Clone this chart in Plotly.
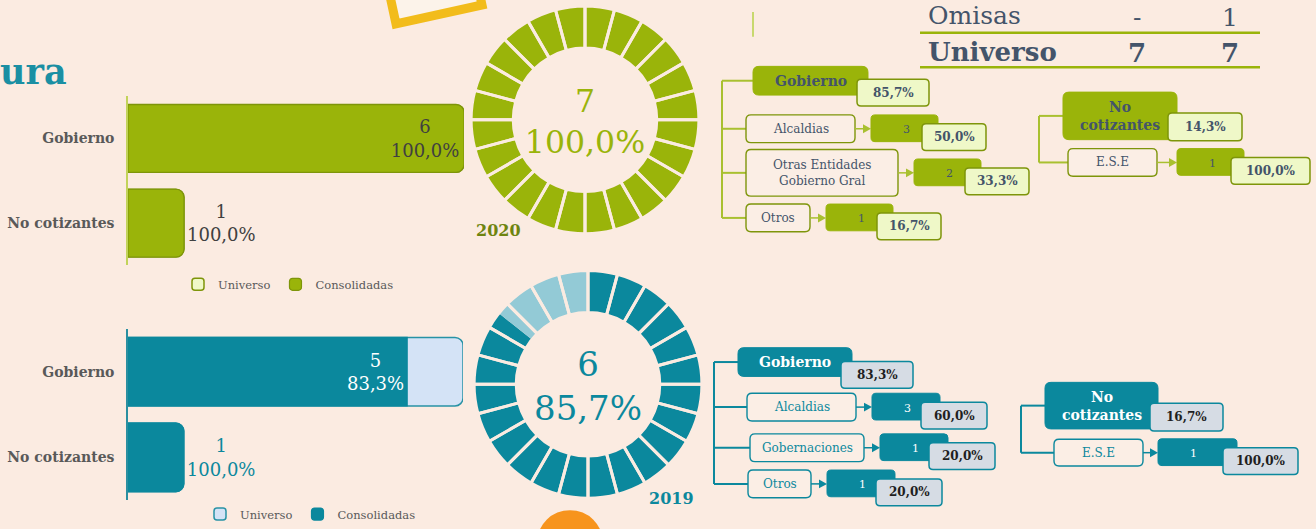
import plotly.graph_objects as go

W, H = 1316, 529
BG = "#FBEBE1"
SERIF = "Georgia, 'DejaVu Serif', serif"

GREEN = "#9AB40A"
GREEN_DARK = "#7E950A"
GREEN_LIGHT = "#EFF8C8"
GREEN_LINE = "#A9C030"
TEAL = "#0B889D"
TEAL_LIGHT = "#93CAD6"
BLUE_LIGHT = "#D4E3F6"
BADGE_GRAY = "#D6DCE4"
SLATE = "#44546A"
GRAY_TEXT = "#595959"

# ---- data ----
years = ["2020", "2019"]
categories = ["Gobierno", "No cotizantes"]
universo_2020 = [6, 1]
consolidadas_2020 = [6, 1]
universo_2019 = [6, 1]
consolidadas_2019 = [5, 1]

gob_items_2020 = ["Alcaldias", "Otras Entidades<br>Gobierno Gral", "Otros"]
gob_counts_2020 = [3, 2, 1]
nocot_items_2020 = ["E.S.E"]
nocot_counts_2020 = [1]

gob_items_2019 = ["Alcaldias", "Gobernaciones", "Otros"]
gob_counts_2019 = [3, 1, 1]
nocot_items_2019 = ["E.S.E"]
nocot_counts_2019 = [1]

table_rows = ["Omisas", "Universo"]
table_col1 = ["-", "7"]
table_col2 = ["1", "7"]


def pct(a, b):
    return f"{100 * a / b:.1f}".replace(".", ",") + "%"


def X(px):
    return px / W


def Y(py):
    return 1 - py / H


def rrect(x0, y0, x1, y1, r, fill, line, lw=1.2):
    pts = [
        f"M{X(x0 + r):.5f},{Y(y0):.5f}",
        f"L{X(x1 - r):.5f},{Y(y0):.5f}",
        f"Q{X(x1):.5f},{Y(y0):.5f} {X(x1):.5f},{Y(y0 + r):.5f}",
        f"L{X(x1):.5f},{Y(y1 - r):.5f}",
        f"Q{X(x1):.5f},{Y(y1):.5f} {X(x1 - r):.5f},{Y(y1):.5f}",
        f"L{X(x0 + r):.5f},{Y(y1):.5f}",
        f"Q{X(x0):.5f},{Y(y1):.5f} {X(x0):.5f},{Y(y1 - r):.5f}",
        f"L{X(x0):.5f},{Y(y0 + r):.5f}",
        f"Q{X(x0):.5f},{Y(y0):.5f} {X(x0 + r):.5f},{Y(y0):.5f} Z",
    ]
    return dict(type="path", xref="paper", yref="paper", path=" ".join(pts),
                fillcolor=fill, line=dict(color=line, width=lw), layer="above")


def seg(x0, y0, x1, y1, color, width=2):
    return dict(type="line", xref="paper", yref="paper", x0=X(x0), y0=Y(y0),
                x1=X(x1), y1=Y(y1), line=dict(color=color, width=width), layer="above")


def txt(x, y, s, size, color, bold=False, anchor="center"):
    return dict(x=X(x), y=Y(y), xref="paper", yref="paper", text=s, showarrow=False,
                xanchor=anchor, yanchor="middle",
                font=dict(family=SERIF, size=size, color=color,
                          weight="bold" if bold else "normal"))


shapes = []
notes = []


def draw_tree(g, head_label, head_pct, items, counts, p):
    total = sum(counts)
    hx0, hy0, hx1, hy1 = g["head"]
    hyc = (hy0 + hy1) / 2
    cx = g["conn"]
    shapes.append(seg(cx, hyc, cx, g["rows"][-1][0], p["line"]))
    shapes.append(seg(cx, hyc, hx0, hyc, p["line"]))
    for yc, x0, x1, h in g["rows"]:
        shapes.append(seg(cx, yc, x0, yc, p["line"]))
    shapes.append(rrect(hx0, hy0, hx1, hy1, 6, p["fill"], p["fill"], 1))
    bx0, by0, bx1, by1 = g["hbadge"]
    shapes.append(rrect(bx0, by0, bx1, by1, 4, p["badge_fill"], p["badge_line"], 1.5))
    notes.append(txt((hx0 + hx1) / 2, hyc, head_label, 14, p["head_text"], True))
    notes.append(txt((bx0 + bx1) / 2, (by0 + by1) / 2, head_pct, 12, p["badge_text"], True))
    for (yc, x0, x1, h), item, c in zip(g["rows"], items, counts):
        shapes.append(rrect(x0, yc - h / 2, x1, yc + h / 2, 5,
                            "rgba(255,255,255,0.15)", p["item_line"], 1.4))
        notes.append(txt((x0 + x1) / 2, yc, item, 12, p["item_text"]))
        c0 = x1 + g["arrow"]
        shapes.append(seg(x1, yc, c0 - 6, yc, p["line"], 1.5))
        shapes.append(dict(type="path", xref="paper", yref="paper", layer="above",
                           path=f"M{X(c0 - 8):.5f},{Y(yc - 4.5):.5f} L{X(c0 - 8):.5f},{Y(yc + 4.5):.5f} "
                                f"L{X(c0):.5f},{Y(yc):.5f} Z",
                           fillcolor=p["line"], line=dict(width=0)))
        shapes.append(rrect(c0, yc - 14, c0 + g["count_w"], yc + 13, 4, p["fill"], p["fill"], 1))
        notes.append(txt(c0 + 35, yc + 1, str(c), 11, p["count_text"]))
        b0 = c0 + g["badge_off"]
        shapes.append(rrect(b0, yc - 5, b0 + g["badge_w"], yc + 22, 4,
                            p["badge_fill"], p["badge_line"], 1.5))
        notes.append(txt(b0 + g["badge_w"] / 2, yc + 8.5, pct(c, total), 12, p["badge_text"], True))


pal_2020 = dict(fill=GREEN, head_text=SLATE, badge_fill=GREEN_LIGHT, badge_line=GREEN_DARK,
                badge_text=SLATE, item_line=GREEN_DARK, item_text=SLATE, line=GREEN_LINE,
                count_text=SLATE)
pal_2019 = dict(fill=TEAL, head_text="white", badge_fill=BADGE_GRAY, badge_line=TEAL,
                badge_text="#1F1F1F", item_line=TEAL, item_text=TEAL, line=TEAL,
                count_text="white")

tot_2020 = sum(consolidadas_2020)
tot_2019 = sum(consolidadas_2019)

draw_tree(dict(conn=722, head=(753, 67, 868, 96), hbadge=(857, 80, 929, 107),
               rows=[(130, 746, 855, 28), (174.5, 746, 898, 47), (220, 746, 810, 28)],
               arrow=16, count_w=67, badge_off=51, badge_w=64),
          categories[0], pct(sum(gob_counts_2020), tot_2020),
          gob_items_2020, gob_counts_2020, pal_2020)
draw_tree(dict(conn=1039, head=(1063, 93, 1177, 141), hbadge=(1168, 114, 1242, 142),
               rows=[(164, 1068, 1157, 28)],
               arrow=20, count_w=67, badge_off=54, badge_w=79),
          categories[1].replace(" ", "<br>"), pct(sum(nocot_counts_2020), tot_2020),
          nocot_items_2020, nocot_counts_2020, pal_2020)
draw_tree(dict(conn=714, head=(738, 351, 852, 380), hbadge=(841, 365, 913, 392),
               rows=[(411, 747, 856, 28), (452, 750, 864, 28), (488.5, 748, 811, 28)],
               arrow=16, count_w=68, badge_off=49, badge_w=66),
          categories[0], pct(sum(gob_counts_2019), tot_2019),
          gob_items_2019, gob_counts_2019, pal_2019)
draw_tree(dict(conn=1021, head=(1045, 386, 1158, 433), hbadge=(1150, 407, 1223, 435),
               rows=[(457, 1054, 1143, 27)],
               arrow=15, count_w=79, badge_off=65, badge_w=75),
          categories[1].replace(" ", "<br>"), pct(sum(nocot_counts_2019), tot_2019),
          nocot_items_2019, nocot_counts_2019, pal_2019)

# table at top right
shapes.append(seg(920, 33, 1260, 33, GREEN, 2.5))
shapes.append(seg(920, 68, 1260, 68, GREEN, 2.5))
shapes.append(seg(753, 12, 753, 37, "#C8D86E", 2))
for i, (name, a, b) in enumerate(zip(table_rows, table_col1, table_col2)):
    yy = 16 + i * 36
    bold = i == 1
    notes.append(txt(926, yy, name, 26 if bold else 25, SLATE, bold, "left"))
    notes.append(txt(1137, yy + 2, a, 26 if bold else 25, SLATE, bold))
    notes.append(txt(1230, yy + 2, b, 26 if bold else 25, SLATE, bold))

# decorations
shapes.insert(0, dict(type="path", xref="paper", yref="paper", layer="above",
                      path=f"M{X(396):.5f},{Y(24):.5f} L{X(482):.5f},{Y(5):.5f} L{X(464):.5f},{Y(-80):.5f} "
                           f"L{X(378):.5f},{Y(-60):.5f} Z",
                      fillcolor="#FCF3EA", line=dict(color="#F2BC1B", width=9)))
shapes.insert(0, dict(type="circle", xref="paper", yref="paper", layer="above",
                      x0=X(537), x1=X(603), y0=Y(581), y1=Y(515),
                      fillcolor="#F7941D", line=dict(width=0)))

notes.append(txt(69, 72, "ura", 35, "#1A8FA3", True, "right"))
notes.append(txt(498, 233, years[0], 16, "#6E8410", True))
notes.append(txt(671, 503, years[1], 16, TEAL, True))

fig = go.Figure()

# ---- bars ----
def bar_traces(univ, cons, xa, ya, leg, light, dark, uline, cline, in_col, out_col):
    fig.add_trace(go.Bar(
        x=univ, y=categories, orientation="h", name="Universo",
        marker=dict(color=light, line=dict(color=uline, width=1.5), cornerradius=8),
        xaxis=xa, yaxis=ya, legend=leg, hoverinfo="skip"))
    fig.add_trace(go.Bar(
        x=cons, y=categories, orientation="h", name="Consolidadas",
        marker=dict(color=dark, line=dict(color=cline, width=1.2), cornerradius=8),
        text=[f"{c}<br>{pct(c, u)}" for c, u in zip(cons, univ)],
        textposition=["inside" if c == max(cons) else "outside" for c in cons],
        insidetextanchor="end", constraintext="none", cliponaxis=False,
        insidetextfont=dict(family=SERIF, size=18, color=in_col),
        outsidetextfont=dict(family=SERIF, size=18, color=out_col),
        xaxis=xa, yaxis=ya, legend=leg, hoverinfo="skip"))


bar_traces(universo_2020, consolidadas_2020, "x", "y", "legend",
           GREEN_LIGHT, GREEN, GREEN_DARK, GREEN_DARK, "#404040", "#404040")
bar_traces(universo_2019, consolidadas_2019, "x2", "y2", "legend2",
           BLUE_LIGHT, TEAL, "#2792A5", TEAL, "white", TEAL)

# ---- donuts ----
def donut(univ, cons, dom, dark, light):
    c, u = sum(cons), sum(univ)
    fig.add_trace(go.Pie(
        values=[c, u - c], marker=dict(colors=[dark, light], line=dict(width=0)),
        hole=0.63, sort=False, direction="clockwise", rotation=0,
        textinfo="none", hoverinfo="skip", showlegend=False, domain=dom))
    fig.add_trace(go.Pie(
        values=[1] * 24, marker=dict(colors=["rgba(0,0,0,0)"] * 24, line=dict(color=BG, width=3)),
        hole=0.63, sort=False, direction="clockwise", rotation=0,
        textinfo="none", hoverinfo="skip", showlegend=False, domain=dom,
        title=dict(text=f"{c}<br>{pct(c, u)}", position="middle center",
                   font=dict(family=SERIF, size=34, color=dark))))


donut(universo_2020, consolidadas_2020,
      dict(x=[X(470), X(700)], y=[Y(236), Y(6)]), GREEN, GREEN_LIGHT)
donut(universo_2019, consolidadas_2019,
      dict(x=[X(473), X(703)], y=[Y(503), Y(273)]), TEAL, TEAL_LIGHT)

axis_x = dict(range=[0, 6], visible=False, fixedrange=True)
axis_y = dict(autorange="reversed", showgrid=False, zeroline=False, ticks="",
              showline=True, linewidth=1.5, ticklabelstandoff=9, fixedrange=True,
              tickfont=dict(family=SERIF, size=14, color=GRAY_TEXT, weight="bold"))
leg = dict(orientation="h", xanchor="left", yanchor="middle", bgcolor="rgba(0,0,0,0)",
           font=dict(family=SERIF, size=11.5, color=GRAY_TEXT), itemclick=False,
           itemdoubleclick=False)

fig.update_layout(
    width=W, height=H, margin=dict(l=0, r=0, t=0, b=0),
    paper_bgcolor=BG, plot_bgcolor="rgba(0,0,0,0)",
    barmode="overlay", bargap=0.2,
    xaxis=dict(axis_x, domain=[X(128), X(464)], anchor="y"),
    yaxis=dict(axis_y, domain=[Y(268), Y(97)], anchor="x", linecolor="#C2D35A"),
    xaxis2=dict(axis_x, domain=[X(128), X(463)], anchor="y2"),
    yaxis2=dict(axis_y, domain=[Y(505), Y(332)], anchor="x2", linecolor="#2A8FA0"),
    legend=dict(leg, x=X(178), y=Y(287)),
    legend2=dict(leg, x=X(200), y=Y(519)),
    shapes=shapes, annotations=notes,
)

fig.write_html("out.html", config={"displayModeBar": False},
               post_script="document.body.style.margin='0px';")
